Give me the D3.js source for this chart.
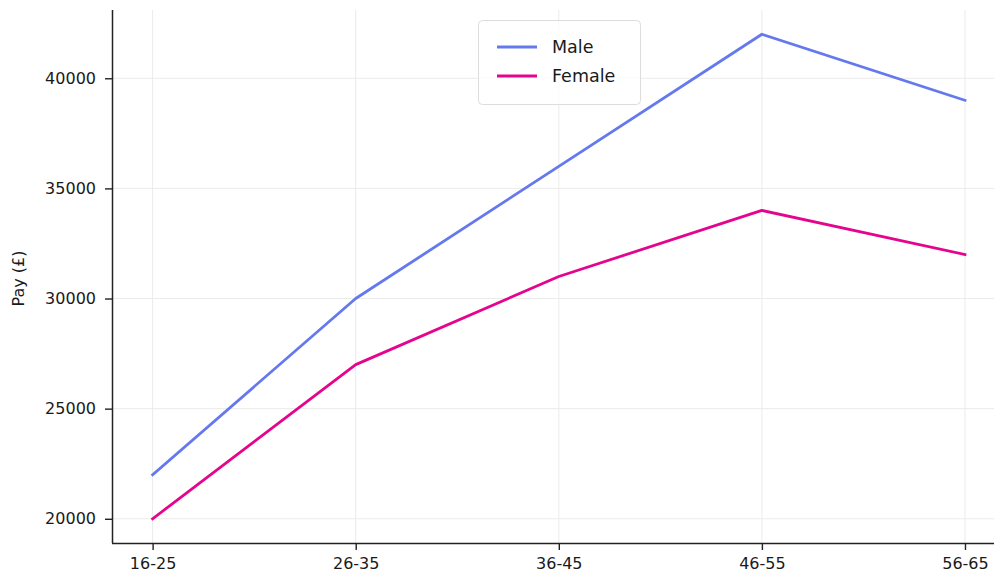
<!DOCTYPE html>
<html><head><meta charset="utf-8">
<script src="https://cdn.jsdelivr.net/npm/d3@7"></script>
<style>body{margin:0;background:#fff}svg{display:block}</style>
</head><body>
<script>
const categories = ["16-25","26-35","36-45","46-55","56-65"];
const male = [22000,30000,36000,42000,39000];
const female = [20000,27000,31000,34000,32000];
const yTicks = [20000,25000,30000,35000,40000];
const seriesNames = ["Male","Female"];
const colors = ["#6579ee","#e5058c"];

const W=994,H=579;
const m={left:112,right:-11.6,top:10,bottom:36};
const svg=d3.select("body").append("svg").attr("width",W).attr("height",H);
const x=d3.scaleLinear().domain([-0.2,categories.length-1+0.2]).range([m.left,W-m.right]);
const y=d3.scaleLinear().domain([18900,43100]).range([H-m.bottom,m.top]);
const font="DejaVu Sans, sans-serif";
const g=svg.append("g");
// grid
g.selectAll(".vg").data(categories).join("line").attr("x1",(d,i)=>x(i)).attr("x2",(d,i)=>x(i))
 .attr("y1",y(18900)).attr("y2",y(43100)).attr("stroke","#ebebeb").attr("stroke-width",1);
g.selectAll(".hg").data(yTicks).join("line").attr("x1",x(-0.2)).attr("x2",x(4.2))
 .attr("y1",d=>y(d)).attr("y2",d=>y(d)).attr("stroke","#ebebeb").attr("stroke-width",1);
// lines
const line=d3.line().x((d,i)=>x(i)).y(d=>y(d));
[male,female].forEach((s,k)=>{
  g.append("path").attr("d",line(s)).attr("fill","none").attr("stroke",colors[k]).attr("stroke-width",2.8).attr("stroke-linejoin","round").attr("stroke-linecap","square");
});
// axes
const xa=svg.append("g").attr("transform",`translate(0,${H-m.bottom})`)
 .call(d3.axisBottom(x).tickValues(d3.range(categories.length)).tickFormat(i=>categories[i]).tickSize(7).tickPadding(8));
const ya=svg.append("g").attr("transform",`translate(${m.left},0)`)
 .call(d3.axisLeft(y).tickValues(yTicks).tickFormat(d3.format("d")).tickSize(7).tickPadding(9));
[xa,ya].forEach(a=>{
  a.select(".domain").attr("stroke","#222").attr("stroke-width",1.5);
  a.selectAll(".tick line").attr("stroke","#222").attr("stroke-width",1.4);
  a.selectAll("text").attr("font-family",font).attr("font-size",16).attr("fill","#1a1a1a");
});
xa.select(".domain").attr("d",`M${m.left},0.5H${W}`);
ya.select(".domain").attr("d",`M0.5,${m.top}V${H-m.bottom}`);
svg.append("text").attr("transform",`translate(24,${(m.top+H-m.bottom)/2+2}) rotate(-90)`)
 .attr("text-anchor","middle").attr("font-family",font).attr("font-size",16).attr("fill","#1a1a1a").text("Pay (£)");
// legend
const lg=svg.append("g").attr("transform","translate(478,20)");
lg.append("rect").attr("x",0.5).attr("y",0.5).attr("width",162).attr("height",84).attr("rx",4)
 .attr("fill","rgba(255,255,255,0.8)").attr("stroke","#dddddd");
seriesNames.forEach((n,k)=>{
  const yy=27+k*29;
  lg.append("line").attr("x1",19).attr("x2",59).attr("y1",yy).attr("y2",yy).attr("stroke",colors[k]).attr("stroke-width",2.8);
  lg.append("text").attr("x",74).attr("y",yy+6).attr("font-family",font).attr("font-size",17.5).attr("fill","#1a1a1a").text(n);
});
</script>
</body></html>
